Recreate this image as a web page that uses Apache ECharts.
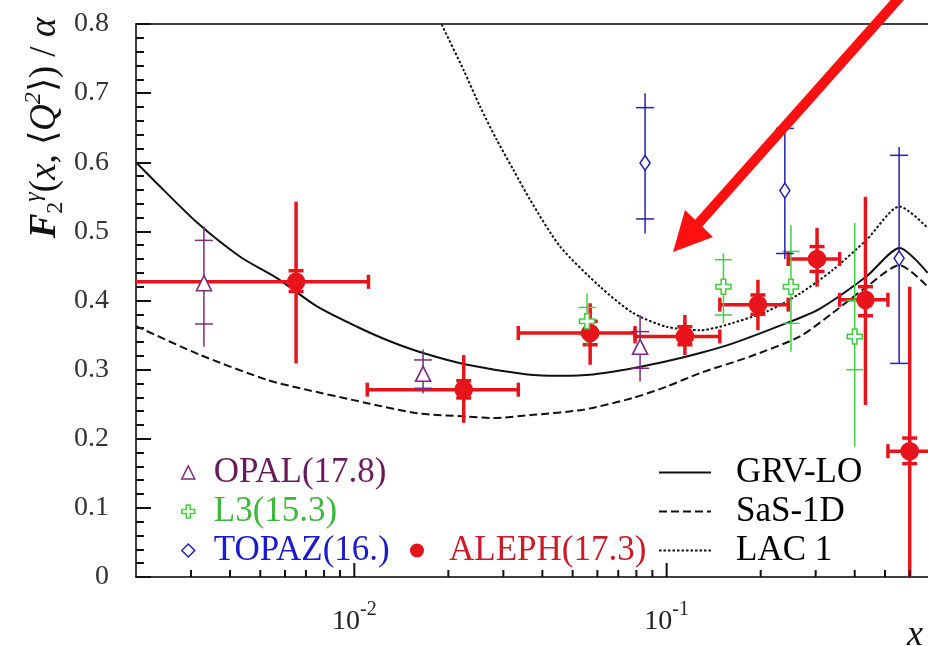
<!DOCTYPE html>
<html>
<head>
<meta charset="utf-8">
<script src="https://cdn.jsdelivr.net/npm/echarts@6/dist/echarts.min.js"></script>
<style>
  html, body { margin: 0; padding: 0; background: #fff; }
  #chart { width: 928px; height: 646px; }
</style>
</head>
<body>
<div id="chart"></div>
<script>
// Photon structure function F2(x, <Q^2>)/alpha against x (log scale)
const SERIF = 'Liberation Serif';

// Theory curves: [x, F2/alpha]
const grvLO = [
  [0.002, 0.600], [0.00228, 0.574], [0.00315, 0.512], [0.00432, 0.463], [0.00567, 0.432],
  [0.00762, 0.391], [0.0102, 0.362], [0.0130, 0.341], [0.0166, 0.324], [0.0230, 0.307],
  [0.0358, 0.293], [0.0456, 0.291], [0.0581, 0.293], [0.078, 0.302], [0.100, 0.312],
  [0.128, 0.324], [0.163, 0.338], [0.235, 0.365], [0.309, 0.388], [0.437, 0.435],
  [0.557, 0.476], [0.685, 0.440]
];
const sas1D = [
  [0.002, 0.363], [0.00322, 0.321], [0.00527, 0.285], [0.00672, 0.273], [0.0110, 0.2515],
  [0.0159, 0.237], [0.0230, 0.232], [0.0278, 0.230], [0.0374, 0.2346], [0.054, 0.242],
  [0.078, 0.259], [0.100, 0.2755], [0.128, 0.295], [0.185, 0.319], [0.267, 0.348],
  [0.340, 0.382], [0.437, 0.420], [0.557, 0.451], [0.685, 0.420]
];
const lac1 = [
  [0.0175, 0.835], [0.0191, 0.798], [0.0224, 0.733], [0.0253, 0.680], [0.0286, 0.632],
  [0.0323, 0.589], [0.0365, 0.546], [0.0456, 0.478], [0.0612, 0.420], [0.078, 0.382],
  [0.100, 0.362], [0.128, 0.357], [0.148, 0.362], [0.209, 0.384], [0.267, 0.410],
  [0.340, 0.444], [0.437, 0.488], [0.557, 0.536], [0.685, 0.505]
];

// Measurements: [x, value, statLow, statHigh, totalLow, totalHigh]
const opal = [
  [0.0033, 0.425, 0.366, 0.487, 0.333, 0.507],
  [0.0166, 0.294, 0.273, 0.314, 0.266, 0.329],
  [0.0822, 0.333, 0.302, 0.355, 0.283, 0.379]
];
const l3 = [
  [0.0556, 0.370, 0.350, 0.390, 0.335, 0.410],
  [0.152, 0.420, 0.379, 0.459, 0.367, 0.468],
  [0.250, 0.420, 0.367, 0.471, 0.326, 0.509],
  [0.400, 0.348, 0.300, 0.400, 0.189, 0.512]
];
const topaz = [
  [0.0853, 0.599, 0.518, 0.679, 0.497, 0.700],
  [0.239, 0.559, 0.468, 0.649, 0.460, 0.655],
  [0.555, 0.461, 0.309, 0.610, 0.309, 0.622]
];
// ALEPH also carries the x bin edges: [..., xLow, xHigh]
const aleph = [
  [0.00651, 0.427, 0.413, 0.443, 0.309, 0.543, 0.0015, 0.0111],
  [0.0224, 0.271, 0.259, 0.284, 0.223, 0.321, 0.0110, 0.0335],
  [0.0569, 0.353, 0.336, 0.370, 0.307, 0.396, 0.0335, 0.0792],
  [0.1144, 0.348, 0.336, 0.362, 0.321, 0.379, 0.0792, 0.148],
  [0.196, 0.394, 0.380, 0.408, 0.357, 0.430, 0.148, 0.245],
  [0.303, 0.460, 0.442, 0.478, 0.420, 0.505, 0.245, 0.358],
  [0.433, 0.401, 0.378, 0.420, 0.249, 0.550, 0.358, 0.511],
  [0.600, 0.182, 0.164, 0.201, -0.05, 0.420, 0.511, 0.750]
];

// Axis ranges and tick positions
const X_MIN = 0.002, X_MAX = 1, Y_MIN = 0, Y_MAX = 0.8;
const xMajorTicks = [0.01, 0.1];
const xMinorTicks = [
  0.003, 0.004, 0.005, 0.006, 0.007, 0.008, 0.009,
  0.02, 0.03, 0.04, 0.05, 0.06, 0.07, 0.08, 0.09,
  0.2, 0.3, 0.4, 0.5, 0.6, 0.7, 0.8, 0.9
];
const yMajorTicks = [0.1, 0.2, 0.3, 0.4, 0.5, 0.6, 0.7];
const yMinorTicks = [
  0.02, 0.04, 0.06, 0.08, 0.12, 0.14, 0.16, 0.18, 0.22, 0.24, 0.26, 0.28,
  0.32, 0.34, 0.36, 0.38, 0.42, 0.44, 0.46, 0.48, 0.52, 0.54, 0.56, 0.58,
  0.62, 0.64, 0.66, 0.68, 0.72, 0.74, 0.76, 0.78
];

const C_OPAL = '#7a2a80', T_OPAL = '#6a1a5a';
const C_L3 = '#44cc44', T_L3 = '#3cb83c';
const C_TOPAZ = '#2323b0', T_TOPAZ = '#1a1ad0';
const C_ALEPH = '#e8141c', T_ALEPH = '#cc1a26';
const CURVE = '#111';

function errorBars(color, width, capHalf, withBins) {
  return function (params, api) {
    const x = api.value(0), y = api.value(1);
    const c = api.coord([x, y]);
    const sLo = api.coord([x, api.value(2)]);
    const sHi = api.coord([x, api.value(3)]);
    const tLo = api.coord([x, api.value(4)]);
    const tHi = api.coord([x, api.value(5)]);
    const style = { stroke: color, lineWidth: width, fill: null };
    const seg = (x1, y1, x2, y2) => ({ type: 'line', shape: { x1, y1, x2, y2 }, style });
    const children = [
      seg(c[0], tLo[1], c[0], tHi[1]),
      seg(c[0] - capHalf, sLo[1], c[0] + capHalf, sLo[1]),
      seg(c[0] - capHalf, sHi[1], c[0] + capHalf, sHi[1])
    ];
    if (withBins) {
      const l = api.coord([api.value(6), y]);
      const r = api.coord([api.value(7), y]);
      children.push(seg(l[0], c[1], r[0], c[1]));
      children.push(seg(l[0], c[1] - 7, l[0], c[1] + 7));
      children.push(seg(r[0], c[1] - 7, r[0], c[1] + 7));
    }
    return { type: 'group', children };
  };
}

function errSeries(name, data, color, width, capHalf, withBins) {
  return {
    type: 'custom', name: name, data: data, clip: true, silent: true, z: 3,
    encode: { x: 0, y: 1 },
    renderItem: errorBars(color, width, capHalf, withBins)
  };
}

function markSeries(name, data, symbol, size, fill, border, z) {
  return {
    type: 'scatter', name: name, data: data.map(d => [d[0], d[1]]),
    symbol: symbol, symbolSize: size, silent: true, z: z,
    itemStyle: { color: fill, borderColor: border, borderWidth: 1.6, opacity: 1 }
  };
}

function curveSeries(name, data, type) {
  return {
    type: 'line', name: name, data: data, symbol: 'none', smooth: 0.25,
    clip: true, silent: true, z: 2, color: CURVE,
    lineStyle: { color: CURVE, width: 2, type: type }
  };
}

const crossPath = 'path://M3.5,0H6.5V3.5H10V6.5H6.5V10H3.5V6.5H0V3.5H3.5Z';
const legendText = { fontFamily: SERIF, fontSize: 35, color: '#000', padding: [0, 0, 0, 14] };
const hiddenDot = { color: 'rgba(0,0,0,0)', borderColor: 'rgba(0,0,0,0)', borderWidth: 0 };

const chart = echarts.init(document.getElementById('chart'));

chart.setOption({
  animation: false,
  grid: {
    left: 136, top: 24, right: -51, bottom: 69,
    show: false, outerBoundsMode: 'none'
  },
  xAxis: [
    {
      type: 'log', logBase: 10, min: X_MIN, max: X_MAX, position: 'bottom',
      axisLine: { show: true, lineStyle: { color: '#000', width: 1.5 } },
      axisTick: { show: false },
      splitLine: { show: false },
      axisLabel: {
        margin: 23,
        formatter: function (v) {
          const e = Math.log10(v);
          if (Math.abs(e - Math.round(e)) > 1e-6) return '';
          return '{b|10}{s|' + Math.round(e) + '}';
        },
        rich: {
          b: { fontFamily: SERIF, fontSize: 28, lineHeight: 44, color: '#222' },
          s: { fontFamily: SERIF, fontSize: 20, lineHeight: 16, verticalAlign: 'top', color: '#222' }
        }
      }
    },
    {
      type: 'log', logBase: 10, min: X_MIN, max: X_MAX, position: 'top',
      axisLine: { show: true, lineStyle: { color: '#000', width: 1.5 } },
      axisTick: { show: false }, axisLabel: { show: false }, splitLine: { show: false }
    }
  ],
  yAxis: {
    type: 'value', min: Y_MIN, max: Y_MAX, interval: 0.1,
    axisLine: { show: true, lineStyle: { color: '#000', width: 1.5 } },
    axisTick: { show: true, inside: true, length: 15, lineStyle: { color: '#111', width: 2 } },
    minorTick: { show: true, splitNumber: 5, length: 8, lineStyle: { color: '#111', width: 2 } },
    splitLine: { show: false },
    axisLabel: {
      margin: 27,
      formatter: v => '{t|' + (v === 0 ? '0' : v.toFixed(1)) + '}',
      rich: { t: { fontFamily: SERIF, fontSize: 28, color: '#333' } }
    }
  },
  legend: [
    {
      orient: 'vertical', left: 176, top: 450, itemWidth: 13, itemHeight: 13, itemGap: 4,
      selectedMode: false, textStyle: legendText,
      data: [
        { name: 'OPAL(17.8)', icon: 'triangle', itemStyle: { color: '#fff', borderColor: C_OPAL, borderWidth: 1.5 }, textStyle: { color: T_OPAL } },
        { name: 'L3(15.3)', icon: crossPath, itemStyle: { color: '#fff', borderColor: C_L3, borderWidth: 1.5 }, textStyle: { color: T_L3 } },
        { name: 'TOPAZ(16.)', icon: 'diamond', itemStyle: { color: '#fff', borderColor: C_TOPAZ, borderWidth: 1.5 }, textStyle: { color: T_TOPAZ } }
      ]
    },
    {
      orient: 'vertical', left: 405, top: 528, itemWidth: 14, itemHeight: 14,
      selectedMode: false, textStyle: Object.assign({}, legendText, { padding: [0, 0, 0, 20] }),
      data: [
        { name: 'ALEPH(17.3)', icon: 'circle', itemStyle: { color: C_ALEPH, borderWidth: 0 }, textStyle: { color: T_ALEPH } }
      ]
    },
    {
      orient: 'vertical', left: 653, top: 450, itemWidth: 52, itemHeight: 14, itemGap: 4,
      selectedMode: false, textStyle: Object.assign({}, legendText, { padding: [0, 0, 0, 20] }),
      data: [
        { name: 'GRV-LO', itemStyle: hiddenDot },
        { name: 'SaS-1D', itemStyle: hiddenDot },
        { name: 'LAC 1', itemStyle: hiddenDot }
      ]
    }
  ],
  series: [
    curveSeries('GRV-LO', grvLO, 'solid'),
    curveSeries('SaS-1D', sas1D, [8, 4]),
    curveSeries('LAC 1', lac1, [2.5, 2]),
    errSeries('ALEPH bars', aleph, C_ALEPH, 3.5, 7.5, true),
    markSeries('ALEPH(17.3)', aleph, 'circle', 17, C_ALEPH, C_ALEPH, 4),
    errSeries('OPAL bars', opal, C_OPAL, 1.5, 9, false),
    markSeries('OPAL(17.8)', opal, 'triangle', 15, '#fff', C_OPAL, 6),
    errSeries('L3 bars', l3, C_L3, 1.5, 8.5, false),
    markSeries('L3(15.3)', l3, crossPath, 15, '#fff', C_L3, 6),
    errSeries('TOPAZ bars', topaz, C_TOPAZ, 1.5, 9, false),
    markSeries('TOPAZ(16.)', topaz, 'diamond', [10, 15], '#fff', C_TOPAZ, 6)
  ]
});

// Titles, arrow annotation and inward x-axis ticks (placed through the grid's scales)
const graphics = [
  {
    type: 'text', x: 45, y: 128, rotation: Math.PI / 2, z: 10,
    style: {
      text: '{f|F}{sub|2}{sup|γ}{n|(}{i|x}{n|, ⟨}{i|Q}{sup|2}{n|⟩) / }{i|α}',
      align: 'center', verticalAlign: 'middle',
      rich: {
        f: { fontFamily: SERIF, fontStyle: 'italic', fontWeight: 'bold', fontSize: 37, lineHeight: 46, fill: '#111' },
        i: { fontFamily: SERIF, fontStyle: 'italic', fontSize: 37, lineHeight: 46, fill: '#111' },
        n: { fontFamily: SERIF, fontSize: 37, lineHeight: 46, fill: '#111' },
        sub: { fontFamily: SERIF, fontSize: 24, lineHeight: 19, verticalAlign: 'bottom', fill: '#111' },
        sup: { fontFamily: SERIF, fontStyle: 'italic', fontSize: 24, lineHeight: 19, verticalAlign: 'top', fill: '#111' }
      }
    }
  },
  {
    type: 'text', x: 907, y: 636, z: 10,
    style: { text: 'x', fontFamily: SERIF, fontStyle: 'italic', fontSize: 36, fill: '#111',
             align: 'left', verticalAlign: 'middle' }
  },
  {
    type: 'line', z: 20,
    shape: { x1: 908, y1: -12, x2: 698, y2: 224 },
    style: { stroke: '#ff1010', lineWidth: 10 }
  },
  {
    type: 'polygon', z: 20,
    shape: { points: [[673, 252], [713, 237], [685, 210]] },
    style: { fill: '#ff1010' }
  }
];

function addXTick(value, len) {
  const p = chart.convertToPixel({ gridIndex: 0 }, [value, Y_MIN]);
  if (!p) return;
  graphics.push({
    type: 'line', z: 30, zlevel: 1, silent: true,
    shape: { x1: p[0], y1: p[1], x2: p[0], y2: p[1] - len },
    style: { stroke: '#111', lineWidth: 2 }
  });
}
xMajorTicks.forEach(v => addXTick(v, 14));
xMinorTicks.forEach(v => addXTick(v, 7));

chart.setOption({ graphic: graphics });
</script>
</body>
</html>
